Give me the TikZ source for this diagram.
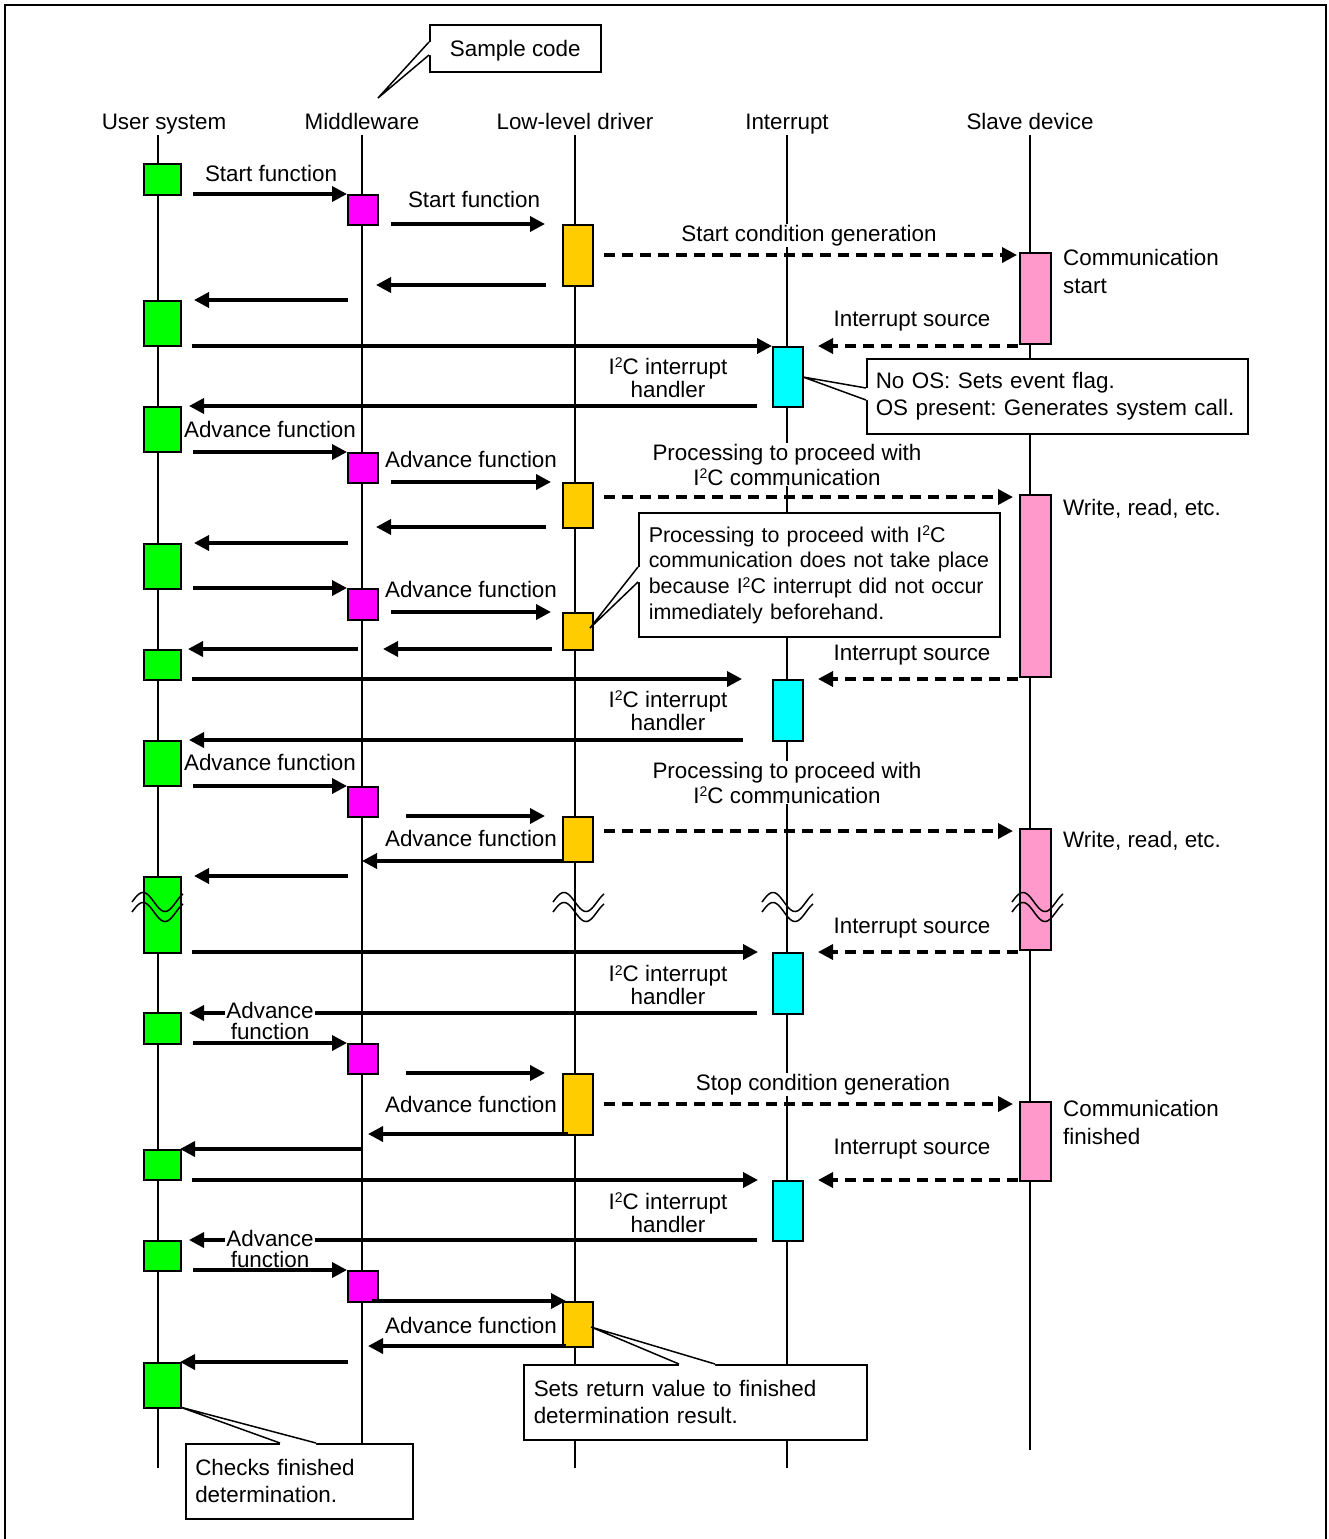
\documentclass[tikz,border=0pt]{standalone}
\usepackage{fontspec}
\setmainfont{Liberation Sans}
\usetikzlibrary{arrows.meta}

\definecolor{cUser}{HTML}{00FF00}
\definecolor{cMid}{HTML}{FF00FF}
\definecolor{cDrv}{HTML}{FFCC00}
\definecolor{cInt}{HTML}{00FFFF}
\definecolor{cSlv}{HTML}{FF99CC}

\newcommand\lfb[1]{\fontsize{22.4}{#1}\selectfont\frenchspacing}
\newcommand\IIC{I\raisebox{6.5pt}{\fontsize{14}{14}\selectfont 2}C}
% activation box: name, colour, x, y (top left), width, height
\newcommand\act[6]{\node[actbox, fill=#2, minimum width=#5pt, minimum height=#6pt] (#1) at (#3,#4) {};}
% message: name, style, x start, x end, y
\newcommand\sig[5]{\coordinate (#1s) at (#3,#5); \coordinate (#1e) at (#4,#5); \draw[#2] (#1s) -- (#1e);}

\begin{document}
\begin{tikzpicture}[x=1pt,y=-1pt,
  lifeline/.style={line width=1.6pt},
  actbox/.style={draw, line width=1.5pt, inner sep=0pt, anchor=north west},
  msg/.style={line width=3.5pt, -{Triangle[length=15pt,width=15pt]}},
  dmsg/.style={msg, dash pattern=on 11pt off 7pt},
  lbl/.style={font=\lfb{26}, fill=white, inner sep=1pt},
  txt/.style={font=\lfb{26}, inner sep=1pt},
  note/.style={draw, fill=white, line width=1.5pt, font=\lfb{27}, align=left, anchor=north west, inner ysep=0pt},
  pointer/.style={line width=1.5pt, line join=miter},
  brk/.style={line width=1.5pt}]
\useasboundingbox (0,0) rectangle (1328,1539);

% frame
\draw[line width=2pt] (5,1545) -- (5,5) -- (1326,5) -- (1326,1545);

% lifelines
\foreach \n/\lx/\lb in {U/158/1468, M/362/1443, D/575/1468, I/787/1468, S/1030/1450} {
  \coordinate (\n top) at (\lx,135);
  \coordinate (\n bot) at (\lx,\lb);
  \draw[lifeline] (\n top) -- (\n bot);
}

% headers
\node[txt, anchor=base] (hU) at (164,129) {User system};
\node[txt, anchor=base] (hM) at (362,129) {Middleware};
\node[txt, anchor=base] (hD) at (575,129) {Low-level driver};
\node[txt, anchor=base] (hI) at (787,129) {Interrupt};
\node[txt, anchor=base] (hS) at (1030,129) {Slave device};

% message labels
\node[lbl, anchor=base] (t1) at (271,181) {Start function};
\node[lbl, anchor=base] (t2) at (474,207) {Start function};
\node[lbl, anchor=base] (t3) at (809,241) {Start condition generation};
\node[txt, align=left, anchor=west, font=\lfb{28}] (t4) at (1062,271) {Communication\\start};
\node[lbl, anchor=base] (t5) at (912,326) {Interrupt source};
\node[lbl, align=center, font=\lfb{23}] (t6) at (668,377.5) {\IIC{} interrupt\\handler};
\node[lbl, anchor=base] (t7) at (270,437) {Advance function};
\node[lbl, anchor=base] (t8) at (471,467) {Advance function};
\node[lbl, align=center, font=\lfb{25}] (t9) at (787,464.5) {Processing to proceed with\\\IIC{} communication};
\node[txt, anchor=base west] (t10) at (1062,515) {Write, read, etc.};
\node[lbl, anchor=base] (t11) at (471,597) {Advance function};
\node[lbl, anchor=base] (t12) at (912,660) {Interrupt source};
\node[lbl, align=center, font=\lfb{23}] (t13) at (668,710.5) {\IIC{} interrupt\\handler};
\node[lbl, anchor=base] (t14) at (270,770) {Advance function};
\node[lbl, align=center, font=\lfb{25}] (t15) at (787,782.5) {Processing to proceed with\\\IIC{} communication};
\node[txt, anchor=base west] (t16) at (1062,847) {Write, read, etc.};
\node[lbl, anchor=base] (t17) at (471,846) {Advance function};
\node[lbl, anchor=base] (t18) at (912,933) {Interrupt source};
\node[lbl, align=center, font=\lfb{23}] (t19) at (668,985) {\IIC{} interrupt\\handler};
\node[lbl, anchor=base] (t20) at (823,1090) {Stop condition generation};
\node[lbl, anchor=base] (t21) at (471,1112) {Advance function};
\node[txt, align=left, anchor=west, font=\lfb{28}] (t22) at (1062,1122.5) {Communication\\finished};
\node[lbl, anchor=base] (t23) at (912,1154) {Interrupt source};
\node[lbl, align=center, font=\lfb{23}] (t24) at (668,1212.5) {\IIC{} interrupt\\handler};
\node[lbl, anchor=base] (t25) at (471,1333) {Advance function};

% activation boxes: user system
\act{u1}{cUser}{143}{163}{37}{31}
\act{u2}{cUser}{143}{300}{37}{45}
\act{u3}{cUser}{143}{406}{37}{45}
\act{u4}{cUser}{143}{543}{37}{45}
\act{u5}{cUser}{143}{649}{37}{30}
\act{u6}{cUser}{143}{740}{37}{45}
\act{u7}{cUser}{143}{876}{37}{76}
\act{u8}{cUser}{143}{1012}{37}{31}
\act{u9}{cUser}{143}{1149}{37}{30}
\act{u10}{cUser}{143}{1240}{37}{30}
\act{u11}{cUser}{143}{1362}{37}{45}
% middleware
\act{m1}{cMid}{347}{194}{30}{30}
\act{m2}{cMid}{347}{452}{30}{30}
\act{m3}{cMid}{347}{588}{30}{31}
\act{m4}{cMid}{347}{786}{30}{30}
\act{m5}{cMid}{347}{1043}{30}{30}
\act{m6}{cMid}{347}{1270}{30}{31}
% low-level driver
\act{d1}{cDrv}{562}{224}{30}{61}
\act{d2}{cDrv}{562}{482}{30}{45}
\act{d3}{cDrv}{562}{612}{30}{37}
\act{d4}{cDrv}{562}{816}{30}{45}
\act{d5}{cDrv}{562}{1073}{30}{61}
\act{d6}{cDrv}{562}{1301}{30}{45}
% interrupt
\act{i1}{cInt}{772}{346}{30}{60}
\act{i2}{cInt}{772}{679}{30}{61}
\act{i3}{cInt}{772}{952}{30}{61}
\act{i4}{cInt}{772}{1180}{30}{60}
% slave device
\act{s1}{cSlv}{1019}{252}{31}{91}
\act{s2}{cSlv}{1019}{494}{31}{182}
\act{s3}{cSlv}{1019}{828}{31}{121}
\act{s4}{cSlv}{1019}{1101}{31}{79}

% messages
\sig{r1}{msg}{193}{347}{194}
\sig{r2}{msg}{391}{545}{224}
\sig{r3}{dmsg}{604}{1017}{255}
\sig{r4}{msg}{546}{376}{285}
\sig{r5}{msg}{348}{194}{300}
\sig{r6}{msg}{192}{772}{346}
\sig{r7}{dmsg}{1018}{818}{346}
\sig{r8}{msg}{757}{189}{406}
\sig{r9}{msg}{193}{347}{452}
\sig{r10}{msg}{391}{551}{482}
\sig{r11}{dmsg}{604}{1013}{497}
\sig{r12}{msg}{546}{376}{527}
\sig{r13}{msg}{348}{194}{543}
\sig{r14}{msg}{193}{347}{588}
\sig{r15}{msg}{391}{551}{612}
\sig{r16}{msg}{358}{188}{649}
\sig{r17}{msg}{552}{383}{649}
\sig{r18}{msg}{192}{742}{679}
\sig{r19}{dmsg}{1018}{818}{679}
\sig{r20}{msg}{743}{189}{740}
\sig{r21}{msg}{193}{347}{786}
\sig{r22}{msg}{406}{545}{816}
\sig{r23}{dmsg}{604}{1013}{831}
\sig{r24}{msg}{562}{362}{861}
\sig{r25}{msg}{348}{194}{876}
\sig{r26}{msg}{192}{758}{952}
\sig{r27}{dmsg}{1018}{818}{952}
\sig{r28}{msg}{757}{189}{1013}
\sig{r29}{msg}{193}{347}{1043}
\sig{r30}{msg}{406}{545}{1073}
\sig{r31}{dmsg}{604}{1013}{1104}
\sig{r32}{msg}{568}{368}{1134}
\sig{r33}{msg}{362}{180}{1149}
\sig{r34}{msg}{192}{758}{1180}
\sig{r35}{dmsg}{1018}{818}{1180}
\sig{r36}{msg}{757}{189}{1240}
\sig{r37}{msg}{193}{347}{1270}
\sig{r38}{msg}{372}{566}{1301}
\sig{r39}{msg}{566}{368}{1346}
\sig{r40}{msg}{348}{180}{1362}

% labels sitting on top of a message line
\node[lbl, align=center, font=\lfb{21}] (t26) at (270,1020.5) {Advance\\function};
\node[lbl, align=center, font=\lfb{21}] (t27) at (270,1248.5) {Advance\\function};

% break marks
\foreach \bx in {132,553,762,1012} {
  \foreach \dy in {0,10} {
    \draw[brk] plot[domain=0:51, samples=41, smooth] ({\bx+\x},{902+\dy-9.5*sin(\x*8.1818)});
  }
}

% callouts
\node[note, align=center, minimum width=171pt, minimum height=47pt, text depth=0pt] (sample) at (429,24) {Sample code};
\coordinate (spa) at (429,42); \coordinate (spb) at (429,55); \coordinate (spt) at (378,98);
\fill[white] (spa) -- (spt) -- (spb) -- (431.5,55) -- (431.5,42) -- cycle;
\draw[pointer] (spa) -- (spt) -- (spb);

\node[note, text width=363pt, inner xsep=9pt, minimum height=75pt] (noteOS) at (866,358) {\mbox{No OS: Sets event flag.}\\\mbox{OS present: Generates system call.}};
\coordinate (osa) at (866,388); \coordinate (osb) at (866,400); \coordinate (ost) at (803,377);
\fill[white] (osa) -- (ost) -- (osb) -- (868.5,400) -- (868.5,388) -- cycle;
\draw[pointer] (osa) -- (ost) -- (osb);

\node[note, text width=341pt, inner xsep=10pt, minimum height=124pt, font={\fontsize{21.4}{25.7}\selectfont\frenchspacing}] (noteProc) at (638,512) {\mbox{Processing to proceed with \IIC}\\\mbox{communication does not take place}\\\mbox{because \IIC{} interrupt did not occur}\\\mbox{immediately beforehand.}};
\coordinate (pra) at (638,567); \coordinate (prb) at (638,582); \coordinate (prt) at (590,628);
\fill[white] (pra) -- (prt) -- (prb) -- (640.5,582) -- (640.5,567) -- cycle;
\draw[pointer] (pra) -- (prt) -- (prb);

\node[note, text width=323pt, inner xsep=10pt, minimum height=75pt] (noteRet) at (523,1364) {\mbox{Sets return value to finished}\\\mbox{determination result.}};
\coordinate (rta) at (679,1364); \coordinate (rtb) at (715,1364); \coordinate (rtt) at (591,1327);
\fill[white] (rta) -- (rtt) -- (rtb) -- (715,1366.5) -- (679,1366.5) -- cycle;
\draw[pointer] (rta) -- (rtt) -- (rtb);

\node[note, text width=208pt, inner xsep=9.5pt, minimum height=75pt] (noteChk) at (185,1443) {\mbox{Checks finished}\\\mbox{determination.}};
\coordinate (cka) at (280,1443); \coordinate (ckb) at (316,1443); \coordinate (ckt) at (180,1407);
\fill[white] (cka) -- (ckt) -- (ckb) -- (316,1445.5) -- (280,1445.5) -- cycle;
\draw[pointer] (cka) -- (ckt) -- (ckb);

\end{tikzpicture}
\end{document}
